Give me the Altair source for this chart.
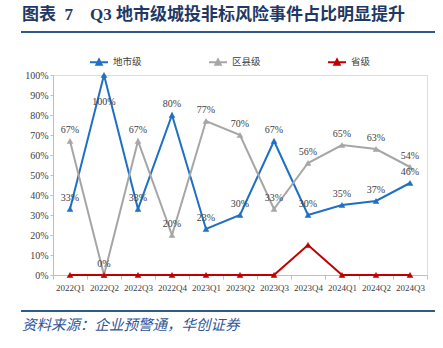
import altair as alt
import pandas as pd

quarters = ["2022Q1", "2022Q2", "2022Q3", "2022Q4", "2023Q1", "2023Q2",
            "2023Q3", "2023Q4", "2024Q1", "2024Q2", "2024Q3"]
city = [0.33, 1.00, 0.33, 0.80, 0.23, 0.30, 0.67, 0.30, 0.35, 0.37, 0.46]
county = [0.67, 0.00, 0.67, 0.20, 0.77, 0.70, 0.33, 0.56, 0.65, 0.63, 0.54]
province = [0, 0, 0, 0, 0, 0, 0, 0.15, 0, 0, 0]
series = ["地市级", "区县级", "省级"]
colors = ["#1f6fc5", "#a6a6a6", "#c00000"]
labeled_series = ["地市级", "区县级"]
y_ticks = [0, 0.1, 0.2, 0.3, 0.4, 0.5, 0.6, 0.7, 0.8, 0.9, 1.0]
NB = "\u00a0"
title_text = ["图表" + NB * 2 + "7" + NB * 4 + "Q3" + NB + "地市级城投非标风险事件占比明显提升"]
source_text = ["资料来源：企业预警通，华创证券"]

rows = []
for s, vals in zip(series, [city, county, province]):
    for q, v in zip(quarters, vals):
        rows.append({"quarter": q, "series": s, "value": v})
df = pd.DataFrame(rows)

SERIF = "'Liberation Serif', 'Noto Sans CJK SC'"
AX = "#bfbfbf"
FS = 9.5

x_enc = alt.X("quarter:N", sort=quarters,
              scale=alt.Scale(type="band", paddingInner=0, paddingOuter=0),
              bandPosition=0.5,
              axis=alt.Axis(title=None, labelAngle=0, tickBand="extent",
                            labelFont=SERIF, labelFontSize=9, labelColor="#404040",
                            domainColor=AX, tickColor=AX, tickSize=4, labelPadding=4))
y_enc = alt.Y("value:Q", scale=alt.Scale(domain=[0, 1], nice=False),
              axis=alt.Axis(title=None, values=y_ticks, format=".0%", grid=False,
                            labelFont=SERIF, labelFontSize=10, labelColor="#404040",
                            domainColor=AX, tickColor=AX, tickSize=3, labelPadding=2))
color_scale = alt.Scale(domain=series, range=colors)

legend = alt.Legend(title=None, orient="none", legendX=36, legendY=-23,
                    direction="horizontal", gridAlign="all", columnPadding=63,
                    symbolType="M-1,0L1,0M-0.3,0.3L0,-0.3L0.3,0.3Z",
                    symbolSize=324, symbolStrokeWidth=2, labelOffset=4,
                    labelFont=SERIF, labelFontSize=FS, labelColor="#404040",
                    padding=0)

base = alt.Chart(df)

lines = base.mark_line(strokeWidth=2).encode(
    x=x_enc, y=y_enc,
    stroke=alt.Stroke("series:N", scale=color_scale, legend=legend),
)

points = base.mark_point(shape="triangle-up", filled=True, size=34, opacity=1,
                         strokeWidth=0.5).encode(
    x=x_enc, y=y_enc,
    fill=alt.Fill("series:N", scale=color_scale, legend=legend),
    stroke=alt.Stroke("series:N", scale=color_scale, legend=legend),
)

lab_base = base.transform_filter(
    alt.FieldOneOfPredicate(field="series", oneOf=labeled_series))

labels_above = lab_base.transform_filter("datum.value < 1").mark_text(
    dy=-11, font=SERIF, fontSize=10, color="#404040").encode(
    x=x_enc, y=y_enc, text=alt.Text("value:Q", format=".0%"))

labels_below = lab_base.transform_filter("datum.value >= 1").mark_text(
    dy=27, font=SERIF, fontSize=10, color="#404040").encode(
    x=x_enc, y=y_enc, text=alt.Text("value:Q", format=".0%"))

title = alt.Chart(pd.DataFrame({"t": title_text})).mark_text(
    align="left", baseline="middle", font=SERIF, fontSize=17,
    fontWeight="bold", color="#1f3864").encode(
    x=alt.value(-31), y=alt.value(-60), text="t:N")

src = alt.Chart(pd.DataFrame({"t": source_text})).mark_text(
    align="left", baseline="middle", font=SERIF, fontSize=14.5,
    fontStyle="italic", color="#2f5597").encode(
    x=alt.value(-31), y=alt.value(251), text="t:N")

rule_df = pd.DataFrame({"a": [0]})
rule_top = alt.Chart(rule_df).mark_rule(color="#2e5c8a", strokeWidth=2).encode(
    x=alt.value(-32), x2=alt.value(382), y=alt.value(-43))
rule_bot = alt.Chart(rule_df).mark_rule(color="#2e5c8a", strokeWidth=2).encode(
    x=alt.value(-32), x2=alt.value(382), y=alt.value(236))

chart = alt.layer(lines, points, labels_above, labels_below, title, src,
                  rule_top, rule_bot).properties(
    width=374, height=200,
    padding={"left": 53, "top": 75, "right": 16, "bottom": 73},
    autosize=alt.AutoSizeParams(type="none"),
).configure_view(stroke=None).configure(background="white")

chart.save("out.html", embed_options={"renderer": "svg", "actions": False})
